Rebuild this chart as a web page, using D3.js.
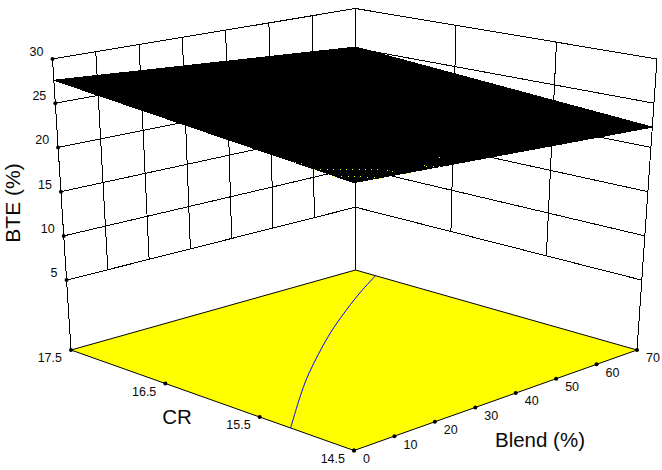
<!DOCTYPE html>
<html>
<head>
<meta charset="utf-8">
<script src="https://d3js.org/d3.v7.min.js"></script>
<style>
    body { margin: 0; background: #fff; }
    svg { display: block; }
    text { font-family: "Liberation Sans", Arial, sans-serif; fill: #0a0a0a; }
</style>
</head>
<body>
<div class="surface-chart"></div>
<script>
(function() {

    // axis ticks
    var blendTicks = [0, 10, 20, 30, 40, 50, 60, 70];
    var crTicks = [17.5, 16.5, 15.5, 14.5];
    var bteTicks = [5, 10, 15, 20, 25, 30];
    var bteFloor = -2.9;

    // fitted plane, BTE at the four corners: rows follow surfaceCR, columns surfaceBlend
    var surfaceBlend = [0, 70];
    var surfaceCR = [17.5, 14.5];
    var surfaceBTE = [[27.6, 25.15], [24.6, 22.3]];

    // the one contour on the floor
    var contourBlend = [0, 14, 22.6, 38.9, 48.9, 60.7, 70];
    var contourCR = [15.172, 15.66, 15.946, 16.448, 16.733, 17.052, 17.287];

    // floor colour showing through the surface near the front corner
    var speckBlend = [0, 1, 2, 3, 3.9, 4.9, 5.8, 6.8, 7.7, 8.7, 9.5, 10.7, 11.3, 12.1, 0, 1, 2, 2.9, 3.8, 4.7, 5.6, 6.2, 18.6, 18.5, 19.6, 20.6, 24.5, 0.2, 0.5];
    var speckCR = [14.9, 14.88, 14.86, 14.84, 14.81, 14.79, 14.77, 14.74, 14.72, 14.7, 14.68, 14.63, 14.6, 14.5, 14.7, 14.67, 14.65, 14.62, 14.6, 14.57, 14.54, 14.51, 14.6, 14.57, 14.55, 14.53, 14.7, 15.1, 15.05];

    var width = 662, height = 470;

    // wall and floor corners in the picture, the 3d box is mapped between them
    var floorBox = { left: [71, 350], back: [355.5, 270], front: [354, 450.5], right: [637, 350] };
    var topBox = { left: [52.5, 59], back: [355.5, 8.5], front: [354, 130], right: [657, 59] };

    var u = d3.scaleLinear().domain([0, 70]).range([0, 1]);
    var v = d3.scaleLinear().domain([17.5, 14.5]).range([0, 1]);
    var w = d3.scaleLinear().domain([bteFloor, 30]).range([0, 1]);

    function bilinear(box, a, b) {
        return [0, 1].map(function(k) {
            return box.left[k] * (1 - a) * (1 - b) + box.back[k] * a * (1 - b)
                + box.front[k] * (1 - a) * b + box.right[k] * a * b;
        });
    }

    var project = function(blend, cr, bte) {
        var a = u(blend), b = v(cr), c = w(bte);
        var p0 = bilinear(floorBox, a, b);
        var p1 = bilinear(topBox, a, b);
        return [p0[0] + (p1[0] - p0[0]) * c, p0[1] + (p1[1] - p0[1]) * c];
    };

    // plane height at any blend/CR
    var planeBTE = function(blend, cr) {
        var a = u(blend), b = v(cr);
        return surfaceBTE[0][0] * (1 - a) * (1 - b) + surfaceBTE[0][1] * a * (1 - b)
            + surfaceBTE[1][0] * (1 - a) * b + surfaceBTE[1][1] * a * b;
    };

    var line = d3.line();

    var svg = d3.select(".surface-chart")
        .append("svg")
        .attr("width", width)
        .attr("height", height);

    var crBack = surfaceCR[0], crFront = surfaceCR[1];
    var blendLeft = surfaceBlend[0], blendRight = surfaceBlend[1];

    var seg = function(a, b, cls) {
        svg.append("path")
            .attr("class", cls)
            .attr("d", line([a, b]))
            .attr("fill", "none")
            .attr("stroke", "#000")
            .attr("stroke-width", 1)
            .attr("shape-rendering", "crispEdges");
    };

    /*walls*/
    bteTicks.forEach(function(t) {
        seg(project(blendLeft, crBack, t), project(blendRight, crBack, t), "grid");
        seg(project(blendRight, crBack, t), project(blendRight, crFront, t), "grid");
    });
    blendTicks.slice(1, -1).forEach(function(t) {
        seg(project(t, crBack, 5), project(t, crBack, 30), "grid");
    });
    crTicks.slice(1, -1).forEach(function(t) {
        seg(project(blendRight, t, 5), project(blendRight, t, 30), "grid");
    });
    seg(project(blendLeft, crBack, bteFloor), project(blendLeft, crBack, 30), "edge");
    seg(project(blendRight, crBack, bteFloor), project(blendRight, crBack, 30), "edge");
    seg(project(blendRight, crFront, bteFloor), project(blendRight, crFront, 30), "edge");

    /*floor*/
    var floorCorners = [[blendLeft, crBack], [blendRight, crBack], [blendRight, crFront], [blendLeft, crFront]];
    svg.append("path")
        .attr("d", line.curve(d3.curveLinearClosed)(floorCorners.map(function(d) { return project(d[0], d[1], bteFloor); })))
        .attr("fill", "#ffff00")
        .attr("stroke", "#000")
        .attr("stroke-width", 1);

    svg.append("path")
        .attr("d", line.curve(d3.curveCatmullRom)(contourBlend.map(function(d, i) { return project(d, contourCR[i], bteFloor); })))
        .attr("fill", "none")
        .attr("stroke", "#0000ff")
        .attr("stroke-width", 1);

    /*surface*/
    svg.append("path")
        .attr("d", line.curve(d3.curveLinearClosed)(floorCorners.map(function(d) { return project(d[0], d[1], planeBTE(d[0], d[1])); })))
        .attr("fill", "#000")
        .attr("stroke", "#000")
        .attr("stroke-width", 1)
        .attr("shape-rendering", "crispEdges");
    line.curve(d3.curveLinear);

    svg.selectAll(".speck")
        .data(speckBlend)
        .enter().append("rect")
        .attr("class", "speck")
        .attr("width", 1)
        .attr("height", 1)
        .attr("fill", "#ffff00")
        .attr("x", function(d, i) { return Math.round(project(d, speckCR[i], planeBTE(d, speckCR[i]))[0]); })
        .attr("y", function(d, i) { return Math.round(project(d, speckCR[i], planeBTE(d, speckCR[i]))[1]); });

    /*tick dots and labels*/
    var addTicks = function(cls, data, pos, anchor, dx, dy) {
        var g = svg.selectAll("." + cls)
            .data(data)
            .enter().append("g")
            .attr("class", cls)
            .attr("transform", function(d) { return "translate(" + pos(d) + ")"; });
        g.append("circle")
            .attr("r", 2)
            .attr("fill", "#000");
        g.append("text")
            .attr("x", dx)
            .attr("y", dy)
            .attr("dy", ".35em")
            .attr("text-anchor", anchor)
            .style("font-size", "12.5px")
            .text(function(d) { return d; });
    };

    addTicks("z-tick", bteTicks, function(d) { return project(blendLeft, crBack, d); }, "end", -9, -7.5);
    addTicks("cr-tick", crTicks, function(d) { return project(blendLeft, d, bteFloor); }, "end", -9, 8);
    addTicks("blend-tick", blendTicks, function(d) { return project(d, crFront, bteFloor); }, "start", 9, 8);

    /*axis titles*/
    svg.append("text")
        .attr("transform", "translate(13,203) rotate(-90)")
        .attr("dy", ".35em")
        .attr("text-anchor", "middle")
        .style("font-size", "21px")
        .text("BTE (%)");

    svg.append("text")
        .attr("x", 177)
        .attr("y", 417)
        .attr("dy", ".35em")
        .attr("text-anchor", "middle")
        .style("font-size", "20.5px")
        .text("CR");

    svg.append("text")
        .attr("x", 540)
        .attr("y", 440)
        .attr("dy", ".35em")
        .attr("text-anchor", "middle")
        .style("font-size", "20.5px")
        .text("Blend (%)");

})();
</script>
</body>
</html>
